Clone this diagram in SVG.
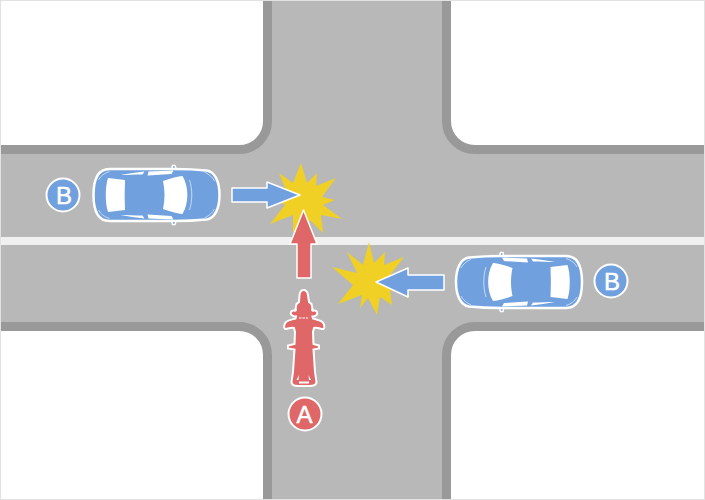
<svg xmlns="http://www.w3.org/2000/svg" width="705" height="500" viewBox="0 0 705 500">
<style>
.block{fill:#fff;stroke:#999;stroke-width:9}
.car{fill:#71a0de;stroke:#fff;stroke-width:2.500}
.mirror{fill:#71a0de;stroke:#fff;stroke-width:1.500}
.win{fill:#fff}
.trim{fill:none;stroke:#fff;stroke-width:0.800;opacity:.75}
.arrow{stroke:#fff;stroke-width:1.500;stroke-linejoin:round}
.blue{fill:#71a0de}
.red{fill:#e06767}
.star{fill:#f0d024}
.lbl{fill:#fff;stroke:#fff;stroke-width:.5;font-family:"Liberation Sans",Arial,sans-serif;font-size:24px;text-anchor:middle}
</style>
<defs>
<g id="carShape">
<path class="mirror" d="M15 -25L16 -29.500L18.500 -29.500L20 -25ZM15 25L16 29.500L18.500 29.500L20 25Z"/>
<path class="car" d="M-47 -26H18C28 -26 40 -25.500 50 -24.500C58 -23.500 63 -14 63 0C63 14 58 23.500 50 24.500C40 25.500 28 26 18 26H-47C-56 26 -63 20 -63 0C-63 -20 -56 -26 -47 -26Z"/>
<path class="win" d="M-48.500 -17L-31.500 -15C-32 -5 -32 5 -31.500 15L-48.500 17C-51.500 8 -51.500 -8 -48.500 -17Z"/>
<path class="win" d="M6.500 -14C12 -16 20 -18.500 26 -19C32.500 -8 32.500 8 26 19C20 18.500 12 16 6.500 14C8.500 5 8.500 -5 6.500 -14Z"/>
<path class="win" d="M-36 -20C-28 -21.500 -20 -22.500 -12 -23.500L-14 -20.500C-21 -20.500 -30 -20 -36 -20ZM-8 -23.500L17 -24.500L15 -21L-9 -19.500ZM-36 20C-28 21.500 -20 22.500 -12 23.500L-14 20.500C-21 20.500 -30 20 -36 20ZM-8 23.500L17 24.500L15 21L-9 19.500Z"/>
<path class="trim" d="M33 -15C36 -6 36 6 33 15M48 -23C52 -21 56 -18 58 -14M48 23C52 21 56 18 58 14M-47 -23.500C-52 -22 -56 -19 -58 -15M-47 23.500C-52 22 -56 19 -58 15"/>
</g>
</defs>
<rect id="road" width="705" height="500" fill="#b8b8b8"/>
<g id="blocks">
<path class="block" d="M-10 -10H267.500V121C267.500 137 255 149.500 239 149.500H-10Z"/>
<path class="block" d="M715 -10H446.500V121C446.500 137 459 149.500 475 149.500H715Z"/>
<path class="block" d="M-10 510H267.500V355C267.500 339 255 326.500 239 326.500H-10Z"/>
<path class="block" d="M715 510H446.500V355C446.500 339 459 326.500 475 326.500H715Z"/>
</g>
<rect id="centre-line" x="0" y="237" width="705" height="8" fill="#f0f0f0"/>
<rect id="frame" x="0.500" y="0.500" width="704" height="499" fill="none" stroke="#e2e2e2"/>
<g id="impact-1"><path class="star" d="M301 163L307 183L317 173L316 186L336 178L322 197L335 200L323 205L342 219L321 215L323 233L310 220L303 235L293 232L293 215L270 224L285 205L272 195L286 190L279 173L293 183Z"/></g>
<g id="impact-2"><path class="star" d="M369 242L374 263L385 252L384 265L404 257L390 275L400 285L410 297L390 290L392 305L380 297L377 315L368 298L360 308L362 295L338 304L353 285L332 267L357 273L347 252L363 265Z"/></g>
<g id="connectors">
<path class="arrow blue" d="M232 188H267V182L300 195L267 208V202H232Z"/>
<path class="arrow red" d="M297 278V244H290L303.500 210L317 244H311V278Z"/>
<path class="arrow blue" d="M444 275V290H408V297L376 282L408 268V275Z"/>
</g>
<g id="car-b-left"><use href="#carShape" transform="translate(156.500 195)"/></g>
<g id="car-b-right"><use href="#carShape" transform="translate(519 282) scale(-1 1)"/></g>
<g id="motorcycle">
<path class="red" stroke="#fff" stroke-width="2" d="M303.500 290C306 290 307.500 292 308 295L309 302L311.500 304L312.500 309C311.500 310 312 311 314 310.500C317 310 318 313 316.500 315C315 316.500 313.500 316.500 312.500 316.500L313 318.500C316 319.500 320 320 322.500 322C324.500 324 325 328 323.500 329C321 329.500 318 327 314 328L313 332L313.500 344L319 345.500V348.500L313.500 349.500L315 372L316.500 382C316.500 385 313.500 386 309.500 386H298C294 386 291.500 385 291.500 382L293 372L294.500 349.500L288 348.500V345.500L294.500 344L295 332L294 328C290 327 287 329.500 285 329C283.500 328 284 324 286 322C288.500 320 292 319.500 295.500 318.500L296 316.500C295 316.500 293 316.500 291.500 315C290 313 291 310 294 310.500C296 311 296.500 310 295.500 309L296.500 304L299 302L299.500 295C300 292 301 290 303.500 290Z"/>
<path fill="none" stroke="#fff" stroke-width="1" d="M299 318H308" stroke-dasharray="2.500 1"/>
<path fill="#fff" d="M299 381.500H309V383.500H299ZM296.500 380L299 375L298.500 380ZM311 380L308.500 375L309 380Z"/>
</g>
<g id="label-a"><circle cx="305" cy="414" r="16.500" class="red" stroke="#fff" stroke-width="2"/><text x="304.500" y="422.500" class="lbl">A</text></g>
<g id="label-b-left"><circle cx="63" cy="195" r="16.500" class="blue" stroke="#fff" stroke-width="2"/><text x="64" y="203.500" class="lbl">B</text></g>
<g id="label-b-right"><circle cx="611" cy="281" r="16.500" class="blue" stroke="#fff" stroke-width="2"/><text x="612" y="289.500" class="lbl">B</text></g>
</svg>
